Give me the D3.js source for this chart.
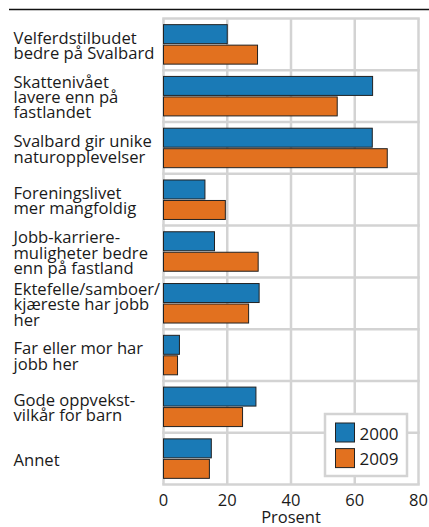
<!DOCTYPE html>
<html>
<head>
<meta charset="utf-8">
<script src="https://cdn.jsdelivr.net/npm/d3@7"></script>
<style>
  body { margin: 0; background: #fff; }
  svg { display: block; font-family: "Open Sans", sans-serif; }
</style>
</head>
<body>
<div id="chart"></div>
<script>
// Data
var categories = [
  ['Velferdstilbudet', 'bedre på Svalbard'],
  ['Skattenivået', 'lavere enn på', 'fastlandet'],
  ['Svalbard gir unike', 'naturopplevelser'],
  ['Foreningslivet', 'mer mangfoldig'],
  ['Jobb-karriere-', 'muligheter bedre', 'enn på fastland'],
  ['Ektefelle/samboer/', 'kjæreste har jobb', 'her'],
  ['Far eller mor har', 'jobb her'],
  ['Gode oppvekst-', 'vilkår for barn'],
  ['Annet']
];
var years = ['2000', '2009'];
var values2000 = [20, 65.6, 65.5, 13, 16, 30, 5, 29, 15];
var values2009 = [29.5, 54.5, 70.2, 19.4, 29.7, 26.7, 4.4, 24.8, 14.4];
var xTicks = [0, 20, 40, 60, 80];

var colors = { '2000': '#1a7ab6', '2009': '#e2711f' };
var gridColor = '#d3d3d3';

var width = 429, height = 527;
var plot = { left: 163.5, right: 418.5, top: 18.5, bottom: 484.5 };

var svg = d3.select('#chart').append('svg')
  .attr('width', width)
  .attr('height', height);

// rule at the top
svg.append('line')
  .attr('x1', 9).attr('x2', width)
  .attr('y1', 9.5).attr('y2', 9.5)
  .attr('stroke', '#111')
  .attr('stroke-width', 1.5);

var x = d3.scaleLinear().domain([0, 80]).range([plot.left, plot.right]);
var y = d3.scaleBand()
  .domain(d3.range(categories.length))
  .range([plot.top, plot.bottom]);
var sub = d3.scaleBand()
  .domain(years)
  .range([0, y.bandwidth()])
  .paddingInner(0.073)
  .paddingOuter(0.3);

// grid: vertical lines
svg.append('g').selectAll('line')
  .data(xTicks)
  .join('line')
  .attr('x1', d => x(d)).attr('x2', d => x(d))
  .attr('y1', plot.top).attr('y2', plot.bottom)
  .attr('stroke', gridColor)
  .attr('stroke-width', 2.5);

// grid: horizontal lines between categories (plus top and bottom)
var hLines = d3.range(categories.length).map(i => y(i)).concat([plot.bottom]);
svg.append('g').selectAll('line')
  .data(hLines)
  .join('line')
  .attr('x1', plot.left - 1.25).attr('x2', plot.right + 1.25)
  .attr('y1', d => d).attr('y2', d => d)
  .attr('stroke', gridColor)
  .attr('stroke-width', 2.5);

// bars
var rows = categories.map(function (c, i) {
  return [
    { year: '2000', i: i, value: values2000[i] },
    { year: '2009', i: i, value: values2009[i] }
  ];
});

svg.append('g').selectAll('g')
  .data(rows)
  .join('g')
  .attr('transform', (d, i) => 'translate(0,' + y(i) + ')')
  .selectAll('rect')
  .data(d => d)
  .join('rect')
  .attr('x', x(0))
  .attr('y', d => sub(d.year))
  .attr('width', d => x(d.value) - x(0))
  .attr('height', sub.bandwidth())
  .attr('fill', d => colors[d.year])
  .attr('stroke', '#222')
  .attr('stroke-width', 1);

// category labels (tight leading, like the original)
var lineH = 15.3;
var labels = svg.append('g')
  .attr('font-size', 16.6)
  .attr('fill', '#1a1a1a');
categories.forEach(function (lines, i) {
  var mid = y(i) + y.bandwidth() / 2 + 7;
  var first = mid - (lines.length - 1) * lineH / 2;
  var t = labels.append('text').attr('x', 13.5);
  lines.forEach(function (s, k) {
    t.append('tspan')
      .attr('x', 13.5)
      .attr('y', first + k * lineH)
      .text(s);
  });
});

// x axis tick labels
svg.append('g').selectAll('text')
  .data(xTicks)
  .join('text')
  .attr('x', d => x(d))
  .attr('y', 506)
  .attr('text-anchor', 'middle')
  .attr('font-size', 16.5)
  .attr('fill', '#1a1a1a')
  .text(d => d);

svg.append('text')
  .attr('x', x(40))
  .attr('y', 523)
  .attr('text-anchor', 'middle')
  .attr('font-size', 16.5)
  .attr('fill', '#1a1a1a')
  .text('Prosent');

// legend
var legend = svg.append('g').attr('transform', 'translate(325,414)');
legend.append('rect')
  .attr('width', 82).attr('height', 62)
  .attr('fill', '#fff')
  .attr('stroke', gridColor)
  .attr('stroke-width', 2.5);
var item = legend.selectAll('g.item')
  .data(years)
  .join('g')
  .attr('class', 'item')
  .attr('transform', (d, i) => 'translate(10.5,' + (9 + i * 25.6) + ')');
item.append('rect')
  .attr('width', 19).attr('height', 19)
  .attr('fill', d => colors[d])
  .attr('stroke', '#222')
  .attr('stroke-width', 1);
item.append('text')
  .attr('x', 24)
  .attr('y', 16.5)
  .attr('font-size', 17)
  .attr('fill', '#1a1a1a')
  .text(d => d);
</script>
</body>
</html>
